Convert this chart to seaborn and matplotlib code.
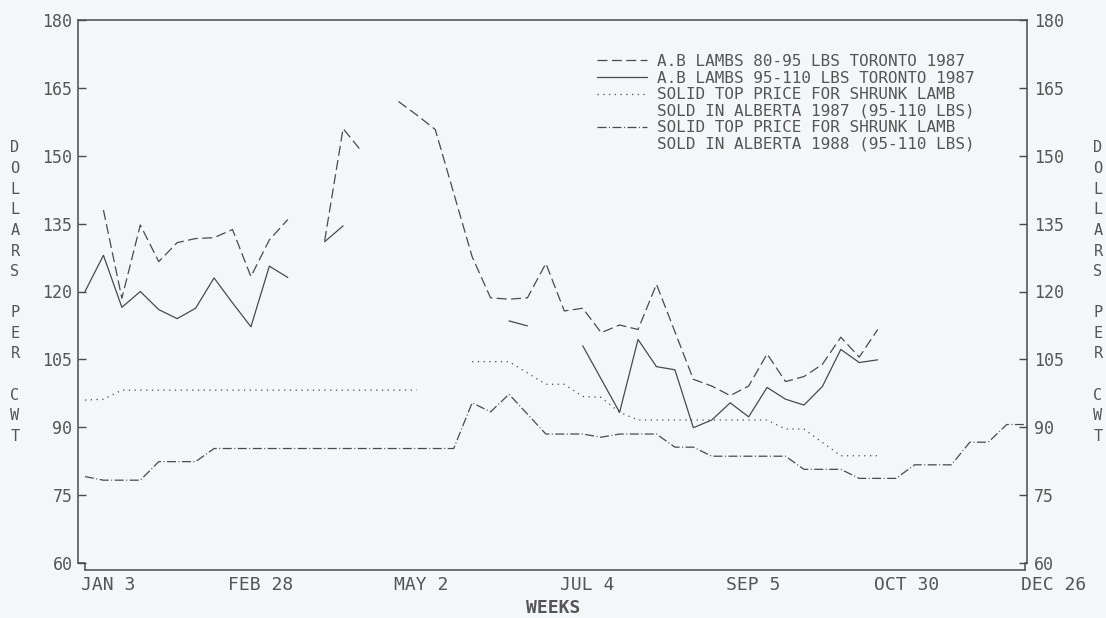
import numpy as np
import pandas as pd
import seaborn as sns
import matplotlib.pyplot as plt
from matplotlib.lines import Line2D
from matplotlib.transforms import ScaledTranslation

nan = np.nan

# weeks counted from JAN 3 (week 0)
tick_weeks = [0, 8, 17, 26, 35, 43, 51]
tick_labels = ['JAN 3', 'FEB 28', 'MAY 2', 'JUL 4', 'SEP 5', 'OCT 30', 'DEC 26']
price_ticks = [60, 75, 90, 105, 120, 135, 150, 165, 180]

# A.B LAMBS 80-95 LBS TORONTO 1987 (dashed)
tor_80_95_wk = list(range(1, 20)) + list(range(21, 32)) + list(range(33, 44))
tor_80_95 = [138, 118.5, 134.7, 126.6, 130.8, 131.7, 131.9, 133.7, 123.3, 131.4, 135.9,
             nan, 131.2, 156, 151, nan, 162, 159, 155.8,
             127.7, 118.6, 118.3, 118.6, 126.2, 115.7, 116.3, 110.9, 112.6, 111.6, 121.6,
             100.6, 99.1, 97, 99.1, 106.2, 100.1, 101.2, 103.9, 109.9, 105.5, 111.6]

# A.B LAMBS 95-110 LBS TORONTO 1987 (solid)
tor_95_110_wk = list(range(0, 16)) + [23, 24, 25, 27] + list(range(29, 44))
tor_95_110 = [120, 128, 116.5, 120, 116, 114, 116.3, 123, 117.5, 112.2, 125.6, 123.1,
              nan, 131, 134.5, nan,
              113.5, 112.4, nan, 108,
              93.3, 109.4, 103.4, 102.7, 89.9, 91.6, 95.4, 92.3, 98.8, 96.2, 94.9, 99,
              107.2, 104.3, 104.9]

# solid top price, shrunk lamb, Alberta 1987 (dotted)
alb_87_wk = list(range(0, 20)) + [21, 22, 23] + list(range(25, 40)) + [41, 42, 43]
alb_87 = [96, 96.2] + [98.2] * 17 + [nan,
          104.5, 104.5, 104.5,
          99.5, 99.5, 96.8, 96.6, 93.3] + [91.6] * 8 + [89.6, 89.6,
          83.7, 83.7, 83.7]

# solid top price, shrunk lamb, Alberta 1988 (dash-dot)
alb_88_wk = list(range(0, 24)) + list(range(25, 52))
alb_88 = [79.1, 78.3, 78.3, 78.3, 82.4, 82.4, 82.4] + [85.3] * 14 + [95.4, 93.4, 97.3,
          88.5, 88.5, 88.5, 87.8, 88.5, 88.5, 88.5, 85.6, 85.6] + [83.6] * 5 + [
          80.7, 80.7, 80.7, 78.7, 78.7, 78.7, 81.7, 81.7, 81.7, 86.7, 86.7, 90.6, 90.6]

legend_lines = ['A.B LAMBS 80-95 LBS TORONTO 1987',
                'A.B LAMBS 95-110 LBS TORONTO 1987',
                'SOLID TOP PRICE FOR SHRUNK LAMB',
                'SOLD IN ALBERTA 1987 (95-110 LBS)',
                'SOLID TOP PRICE FOR SHRUNK LAMB',
                'SOLD IN ALBERTA 1988 (95-110 LBS)']

ink = '#4a4a4a'
txt = '#555555'
bg = '#f4f6fa'
lw = 0.9
styles = {
    'dashed': (0, (8, 3.5)),
    'solid': '-',
    'dotted': (0, (1, 3.6)),
    'dashdot': (0, (7.2, 2, 0.8, 2)),
}

sns.set_theme(style='white')
plt.rcParams['font.family'] = ['DejaVu Sans Mono', 'DejaVu Sans']
plt.rcParams['text.color'] = txt
plt.rcParams['axes.labelcolor'] = txt


def segments(weeks, values):
    df = pd.DataFrame({'week': weeks, 'price': values})
    df['seg'] = df['price'].isna().cumsum()
    return df.dropna()


fig = plt.figure(figsize=(11.06, 6.18), dpi=100, facecolor=bg)
ax = fig.add_axes([78 / 1106, 1 - 563 / 618, (1027 - 78) / 1106, (563 - 20) / 618])
ax.set_facecolor(bg)

series = [(tor_80_95_wk, tor_80_95, 'dashed'),
          (tor_95_110_wk, tor_95_110, 'solid'),
          (alb_87_wk, alb_87, 'dotted'),
          (alb_88_wk, alb_88, 'dashdot')]
for wk, vals, st in series:
    df = segments(wk, vals)
    for _, part in df.groupby('seg'):
        sns.lineplot(data=part, x='week', y='price', ax=ax, color=ink, lw=lw,
                     linestyle=styles[st], estimator=None, sort=False, legend=False)

# frame first: moving a spine resets its ticks
for s in ['left', 'right', 'top', 'bottom']:
    ax.spines[s].set_visible(True)
    ax.spines[s].set_color(ink)
    ax.spines[s].set_linewidth(1.1)
ax.spines['bottom'].set_position(('outward', 5))

xmin, xmax = -0.38, 51.1
ax.set_xlim(xmin, xmax)
ax.set_ylim(60, 180)
ax.spines['bottom'].set_bounds(0, 51)
ax.set_xticks(tick_weeks)
ax.set_xticklabels(tick_labels, fontsize=13, color=txt)
ax.set_yticks(price_ticks)
ax.set_yticklabels([str(v) for v in price_ticks], fontsize=12, color=txt)
ax.tick_params(axis='y', direction='in', length=6, width=1, color=ink, pad=4)
ax.tick_params(axis='x', direction='in', length=5, width=1, color=ink, pad=4)
off = ScaledTranslation(-4 / 100, 0, fig.dpi_scale_trans)
for lab in ax.get_xticklabels():
    lab.set_horizontalalignment('left')
    lab.set_transform(lab.get_transform() + off)

# small hooks joining the lowered time axis to the price axes
drop = 60 - 5 / 72 * 100 / 4.525
ax.plot([xmin, 0, 0], [60, 60, drop], color=ink, lw=1.1, clip_on=False)
ax.plot([51, 51, xmax], [drop, 60, 60], color=ink, lw=1.1, clip_on=False)

ax.set_xlabel('')
ax.set_ylabel('')
fig.text(553 / 1106, 1 - 608 / 618, 'WEEKS', fontsize=13, fontweight='bold',
         color=txt, ha='center', va='center')

ax2 = ax.twinx()
ax2.set_ylim(60, 180)
ax2.set_yticks(price_ticks)
ax2.set_yticklabels([str(v) for v in price_ticks], fontsize=12, color=txt)
ax2.tick_params(axis='y', direction='in', length=6, width=1, color=ink, pad=5)
for s in ax2.spines.values():
    s.set_visible(False)
ax2.grid(False)

# stacked axis titles on both sides
letters = 'DOLLARS PER CWT'
for xpos in [15, 1098]:
    for i, ch in enumerate(letters):
        if ch != ' ':
            fig.text(xpos / 1106, 1 - (148 + i * 20.6) / 618, ch, fontsize=11,
                     color=txt, ha='center', va='center')

handles = [Line2D([], [], color=ink, lw=lw, linestyle=styles['dashed']),
           Line2D([], [], color=ink, lw=lw, linestyle=styles['solid']),
           Line2D([], [], color=ink, lw=lw, linestyle=styles['dotted']),
           Line2D([], [], color='none'),
           Line2D([], [], color=ink, lw=lw, linestyle=styles['dashdot']),
           Line2D([], [], color='none')]
ax.legend(handles, legend_lines, loc='upper left',
          bbox_to_anchor=(597 / 1106, 1 - 54 / 618), bbox_transform=fig.transFigure,
          frameon=False, borderpad=0, borderaxespad=0, fontsize=11.5,
          handlelength=3.13, handletextpad=0.63, labelspacing=0.1,
          labelcolor=txt)

fig.savefig('out.png', dpi=100, facecolor=bg)
